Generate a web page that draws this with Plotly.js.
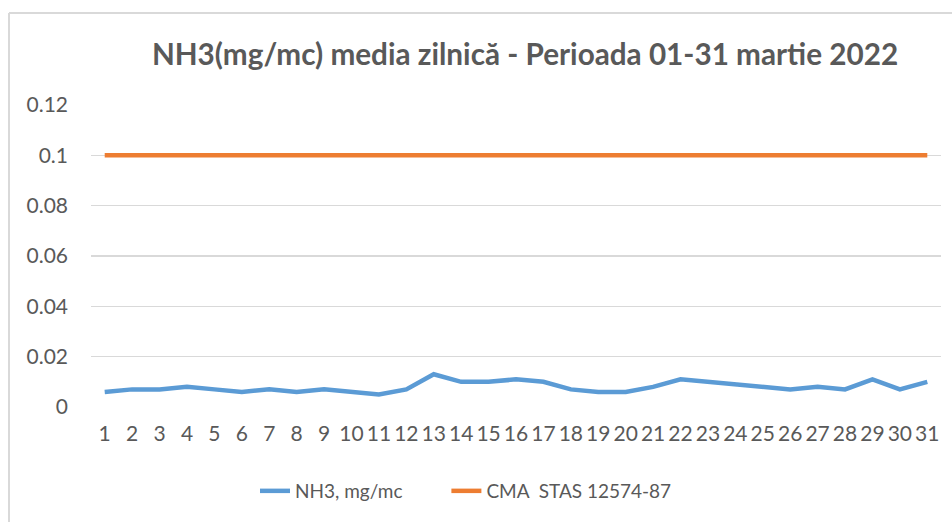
<!DOCTYPE html>
<html>
<head>
<meta charset="utf-8">
<script src="https://cdn.plot.ly/plotly-3.0.1.min.js"></script>
<style>
html,body{margin:0;padding:0;background:#fff;}
#chart{width:952px;height:522px;}
</style>
</head>
<body>
<div id="chart"></div>
<script>
const days = [1,2,3,4,5,6,7,8,9,10,11,12,13,14,15,16,17,18,19,20,21,22,23,24,25,26,27,28,29,30,31];
const nh3 = [0.006,0.007,0.007,0.008,0.007,0.006,0.007,0.006,0.007,0.006,0.005,0.007,0.013,0.010,0.010,0.011,0.010,0.007,0.006,0.006,0.008,0.011,0.010,0.009,0.008,0.007,0.008,0.007,0.011,0.007,0.010];
const cma = [0.1,0.1,0.1,0.1,0.1,0.1,0.1,0.1,0.1,0.1,0.1,0.1,0.1,0.1,0.1,0.1,0.1,0.1,0.1,0.1,0.1,0.1,0.1,0.1,0.1,0.1,0.1,0.1,0.1,0.1,0.1];
const yTicks = [0,0.02,0.04,0.06,0.08,0.1,0.12];
const yTickText = ['0','0.02','0.04','0.06','0.08','0.1','0.12'];
const names = ['NH3, mg/mc\u00a0\u00a0\u00a0\u00a0\u00a0\u00a0\u00a0\u00a0','CMA\u00a0 STAS 12574-87'];
const titleText = 'NH3(mg/mc) media zilnică - Perioada 01-31 martie 2022';

const font = 'Lato, "Open Sans", sans-serif';
const traces = [
  {x: days, y: nh3, type: 'scatter', mode: 'lines', name: names[0],
   line: {color: '#5b9bd5', width: 4.5}},
  {x: days, y: cma, type: 'scatter', mode: 'lines', name: names[1],
   line: {color: '#ed7d31', width: 4.5}}
];
const layout = {
  width: 952, height: 522,
  margin: {l: 91, r: 11, t: 105, b: 115},
  paper_bgcolor: '#ffffff', plot_bgcolor: '#ffffff',
  font: {family: font, color: '#595959', size: 19},
  title: {text: '<b>' + titleText + '</b>', font: {family: font, size: 29.7, color: '#595959'},
          x: 525/952, xanchor: 'center', y: 1 - 55/522, yanchor: 'middle', xref: 'container', yref: 'container'},
  xaxis: {range: [0.5, 31.5], tickmode: 'array', tickvals: days, ticktext: days.map(String),
          showgrid: false, zeroline: false, showline: false, ticks: '', ticklabelstandoff: 12,
          tickfont: {size: 21, color: '#595959'}, fixedrange: true},
  yaxis: {range: [0, 0.12], tickmode: 'array', tickvals: yTicks, ticktext: yTickText,
          showgrid: true, gridcolor: '#d9d9d9', gridwidth: 1.3, zeroline: false, showline: false,
          ticks: '', ticklabelstandoff: 22, tickfont: {size: 21, color: '#595959'}},
  showlegend: true,
  legend: {orientation: 'h', x: (255-91)/850, xanchor: 'left', y: (407-491)/302, yanchor: 'middle',
           font: {size: 19, color: '#595959'}},
  shapes: [
    {type: 'line', xref: 'paper', yref: 'paper', x0: (9-91)/850, x1: (952-91)/850, y0: (407-13)/302, y1: (407-13)/302,
     line: {color: '#d9d9d9', width: 2}},
    {type: 'line', xref: 'paper', yref: 'paper', x0: (9-91)/850, x1: (9-91)/850, y0: (407-13)/302, y1: (407-522)/302,
     line: {color: '#d9d9d9', width: 2}}
  ]
};
Plotly.newPlot('chart', traces, layout, {displayModeBar: false, staticPlot: true});
</script>
</body>
</html>
